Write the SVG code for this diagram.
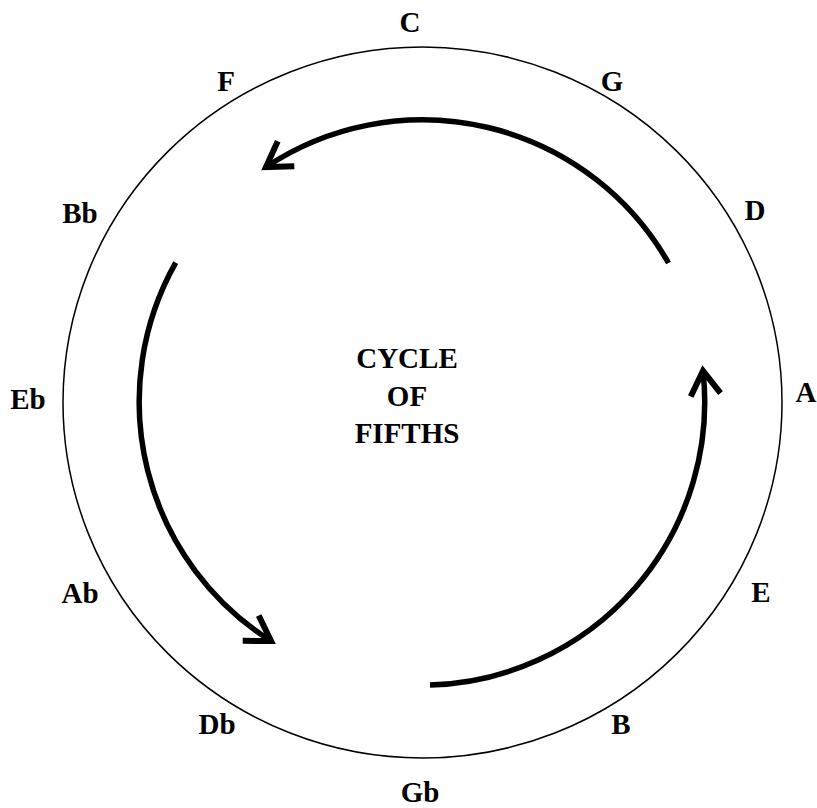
<svg xmlns="http://www.w3.org/2000/svg" width="817" height="808" viewBox="0 0 817 808">
<style>
.lbl{font-family:"Liberation Serif","Times New Roman",serif;font-weight:bold;font-size:29px;fill:#000;text-anchor:middle}
.ring{fill:none;stroke:#000;stroke-width:1.5}
.arc{fill:none;stroke:#000;stroke-width:5.5;stroke-linecap:butt}
</style>
<defs>
<marker id="head" markerUnits="userSpaceOnUse" markerWidth="40" markerHeight="40" viewBox="-30 -20 40 40" refX="0" refY="0" orient="auto">
<path d="M-24,-15 L0,0 L-24,15" fill="none" stroke="#000" stroke-width="6" stroke-linejoin="miter"/>
</marker>
</defs>
<rect width="817" height="808" fill="#fff"/>
<g id="circle">
<ellipse class="ring" cx="422.5" cy="402.5" rx="359.5" ry="355.5"/>
</g>
<g id="connectors">
<path class="arc" d="M668.5,263 A283,283 0 0 0 266,167" marker-end="url(#head)"/>
<path class="arc" d="M175.7,262.7 A283,283 0 0 0 271,641" marker-end="url(#head)"/>
<path class="arc" d="M430,685 A283,283 0 0 0 703,371" marker-end="url(#head)"/>
</g>
<g id="node-C"><text class="lbl" x="410" y="32">C</text></g>
<g id="node-G"><text class="lbl" x="612" y="91">G</text></g>
<g id="node-D"><text class="lbl" x="755" y="220">D</text></g>
<g id="node-A"><text class="lbl" x="806" y="402">A</text></g>
<g id="node-E"><text class="lbl" x="761" y="602">E</text></g>
<g id="node-B"><text class="lbl" x="621" y="734">B</text></g>
<g id="node-Gb"><text class="lbl" x="420" y="802">Gb</text></g>
<g id="node-Db"><text class="lbl" x="217" y="734">Db</text></g>
<g id="node-Ab"><text class="lbl" x="80" y="603">Ab</text></g>
<g id="node-Eb"><text class="lbl" x="28" y="409">Eb</text></g>
<g id="node-Bb"><text class="lbl" x="80" y="223">Bb</text></g>
<g id="node-F"><text class="lbl" x="226" y="91">F</text></g>
<g id="title">
<text class="lbl" x="407" y="368">CYCLE</text>
<text class="lbl" x="407" y="406">OF</text>
<text class="lbl" x="407" y="443">FIFTHS</text>
</g>
</svg>
